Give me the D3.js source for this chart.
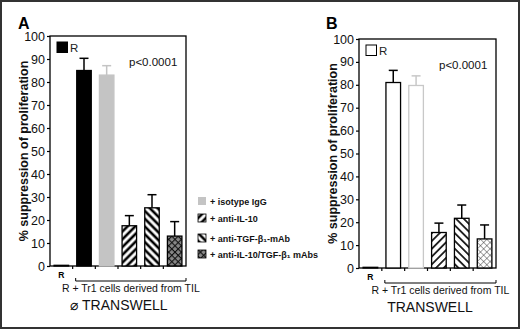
<!DOCTYPE html>
<html>
<head>
<meta charset="utf-8">
<script src="https://cdn.jsdelivr.net/npm/d3@7"></script>
<style>
  body { margin: 0; background: #fff; }
  svg { font-family: "Liberation Sans", Arial, sans-serif; }
</style>
</head>
<body>
<svg id="chart" width="520" height="329"></svg>
<script>
// data
const categories = ["R", "Tr1", "isotype", "antiIL10", "antiTGF", "antiBoth"]
const valuesA = [0.3, 85, 83, 17.5, 25.3, 13]
const errorsA = [0, 5.3, 4.1, 4.4, 5.7, 6.3]
const valuesB = [0.3, 81, 79.7, 15.5, 21.7, 12.7]
const errorsB = [0, 5.3, 4.2, 4.1, 5.8, 6.1]
const yTicks = [0, 10, 20, 30, 40, 50, 60, 70, 80, 90, 100]
const legendLabels = ["+ isotype IgG", "+ anti-IL-10", "+ anti-TGF-β\u2081-mAb", "+ anti-IL-10/TGF-β\u2081 mAbs"]

const svg = d3.select("#chart")

// frame round the whole figure
svg.append("rect")
  .attr("x", 1).attr("y", 1)
  .attr("width", 518).attr("height", 327)
  .attr("fill", "none")
  .attr("stroke", "#333")
  .attr("stroke-width", 2)

// hatch patterns
const defs = svg.append("defs")
function stripes(id, angle, w, col) {
  const p = defs.append("pattern")
    .attr("id", id)
    .attr("patternUnits", "userSpaceOnUse")
    .attr("width", 5.5).attr("height", 5.5)
    .attr("patternTransform", `rotate(${angle})`)
  p.append("rect").attr("width", 5.5).attr("height", 5.5).attr("fill", "#fff")
  p.append("line")
    .attr("x1", 2.75).attr("y1", 0).attr("x2", 2.75).attr("y2", 5.5)
    .attr("stroke", col).attr("stroke-width", w)
}
function cross(id, w, col, bg) {
  const p = defs.append("pattern")
    .attr("id", id)
    .attr("patternUnits", "userSpaceOnUse")
    .attr("width", 4.5).attr("height", 4.5)
    .attr("patternTransform", "rotate(45)")
  p.append("rect").attr("width", 4.5).attr("height", 4.5).attr("fill", bg)
  p.append("line").attr("x1", 0).attr("y1", 0).attr("x2", 0).attr("y2", 4.5)
    .attr("stroke", col).attr("stroke-width", w)
  p.append("line").attr("x1", 0).attr("y1", 0).attr("x2", 4.5).attr("y2", 0)
    .attr("stroke", col).attr("stroke-width", w)
}
stripes("fwdA", 45, 2.6, "#000")
stripes("backA", -45, 2.6, "#000")
cross("crossA", 2.2, "#111", "#888")
stripes("fwdB", 45, 1.6, "#000")
stripes("backB", -45, 1.6, "#000")
cross("crossB", 0.9, "#333", "#fff")

function drawPanel(p) {
  const y = d3.scaleLinear().domain([0, 100]).range([p.y0, p.y100])
  const x = d3.scaleBand().domain(categories).range([p.left, p.right]).paddingInner(0.36).paddingOuter(0.18)
  const band = d3.scaleBand().domain(categories).range([p.left, p.right])

  const g = svg.append("g")

  // plot box
  g.append("rect")
    .attr("x", p.left).attr("y", p.y100)
    .attr("width", p.right - p.left).attr("height", p.y0 - p.y100)
    .attr("fill", "none").attr("stroke", "#000").attr("stroke-width", 1.3)

  // bars
  const bars = g.selectAll(".bar")
    .data(p.values)
    .join("rect")
      .attr("x", (d, i) => x(categories[i]))
      .attr("y", d => y(d))
      .attr("width", x.bandwidth())
      .attr("height", d => p.y0 - y(d))
      .attr("fill", (d, i) => p.fills[i])
      .attr("stroke", (d, i) => p.strokes[i])
      .attr("stroke-width", 1.3)

  // error bars (upper only)
  p.values.forEach((v, i) => {
    if (!p.errors[i]) return
    const cx = x(categories[i]) + x.bandwidth() / 2
    g.append("line")
      .attr("x1", cx).attr("x2", cx)
      .attr("y1", y(v)).attr("y2", y(v + p.errors[i]))
      .attr("stroke", p.errColors[i]).attr("stroke-width", 1.5)
    g.append("line")
      .attr("x1", cx - 4.5).attr("x2", cx + 4.5)
      .attr("y1", y(v + p.errors[i])).attr("y2", y(v + p.errors[i]))
      .attr("stroke", p.errColors[i]).attr("stroke-width", 1.5)
  })

  // y axis
  const yAxis = g.append("g")
    .attr("transform", `translate(${p.left},0)`)
    .call(d3.axisLeft(y).tickValues(yTicks).tickSize(3).tickSizeOuter(0))
  yAxis.select(".domain").remove()
  yAxis.selectAll("line").attr("stroke", "#000").attr("stroke-width", 1.2)
  yAxis.selectAll("text")
    .attr("font-size", 12.5).attr("fill", "#111")
    .attr("font-family", "Liberation Sans, Arial, sans-serif")
    .attr("dx", 1)

  // x axis ticks at band edges
  const xAxis = g.append("g")
    .attr("transform", `translate(0,${p.y0})`)
  xAxis.selectAll("line")
    .data(categories.slice(1))
    .join("line")
      .attr("x1", d => band(d)).attr("x2", d => band(d))
      .attr("y1", 0).attr("y2", 3)
      .attr("stroke", "#000").attr("stroke-width", 1.2)

  g.append("text")
    .attr("x", x("R") + x.bandwidth() / 2).attr("y", p.y0 + 12)
    .attr("text-anchor", "middle")
    .attr("font-size", 8.5).attr("font-weight", "bold")
    .text("R")

  // bracket under the Tr1 groups
  const bx0 = band("Tr1") + 3, bx1 = p.right
  const by = p.y0 + 15
  g.append("path")
    .attr("d", `M${bx0},${by - 3}V${by}H${bx1}V${by - 3}`)
    .attr("fill", "none").attr("stroke", "#000").attr("stroke-width", 1)
  g.append("text")
    .attr("x", (bx0 + bx1) / 2).attr("y", by + 11)
    .attr("text-anchor", "middle")
    .attr("font-size", 10.5).attr("fill", "#111")
    .text("R + Tr1 cells derived from TIL")
  g.append("text")
    .attr("x", p.footX).attr("y", by + 29)
    .attr("text-anchor", "middle")
    .attr("font-size", 14).attr("fill", "#111")
    .text(p.foot)

  // y label
  g.append("text")
    .attr("transform", `translate(${p.labelX},${(p.y0 + p.y100) / 2}) rotate(-90)`)
    .attr("text-anchor", "middle")
    .attr("font-size", 12.5).attr("font-weight", "bold").attr("fill", "#111")
    .text("% suppression of proliferation")

  // panel letter
  g.append("text")
    .attr("x", p.letterX).attr("y", 29)
    .attr("font-size", 16).attr("font-weight", "bold")
    .text(p.letter)

  // R key in the box
  g.append("rect")
    .attr("x", p.left + 7).attr("y", p.y100 + 6)
    .attr("width", 10.5).attr("height", 10.5)
    .attr("fill", p.fills[1]).attr("stroke", "#000").attr("stroke-width", 1)
  g.append("text")
    .attr("x", p.left + 20).attr("y", p.y100 + 15.5)
    .attr("font-size", 11.5).attr("fill", "#222")
    .text("R")

  g.append("text")
    .attr("x", p.pX).attr("y", p.y100 + 30)
    .attr("font-size", 11.5).attr("fill", "#111")
    .text("p<0.0001")
}

drawPanel({
  letter: "A", letterX: 18,
  left: 50, right: 186, y0: 266, y100: 36,
  values: valuesA, errors: errorsA,
  fills: ["#000", "#000", "#c4c4c4", "url(#fwdA)", "url(#backA)", "url(#crossA)"],
  strokes: ["#000", "#000", "#c4c4c4", "#000", "#000", "#000"],
  errColors: ["#000", "#000", "#c4c4c4", "#000", "#000", "#000"],
  labelX: 28, pX: 129, footX: 119, foot: "\u2300 TRANSWELL"
})

drawPanel({
  letter: "B", letterX: 326,
  left: 359, right: 496, y0: 268, y100: 39,
  values: valuesB, errors: errorsB,
  fills: ["#000", "#fff", "#fff", "url(#fwdB)", "url(#backB)", "url(#crossB)"],
  strokes: ["#000", "#000", "#c8c8c8", "#000", "#000", "#000"],
  errColors: ["#000", "#000", "#c8c8c8", "#000", "#000", "#000"],
  labelX: 337, pX: 439, footX: 430, foot: "TRANSWELL"
})

// side legend for the treatments
const legendFills = ["#c4c4c4", "url(#fwdA)", "url(#backA)", "url(#crossA)"]
const legendY = [201, 218, 238, 254]
const legend = svg.append("g")
legendLabels.forEach((t, i) => {
  legend.append("rect")
    .attr("x", 198).attr("y", legendY[i] - 4)
    .attr("width", 8).attr("height", 8)
    .attr("fill", legendFills[i])
    .attr("stroke", i === 0 ? "none" : "#000").attr("stroke-width", 0.8)
  legend.append("text")
    .attr("x", 210).attr("y", legendY[i] + 3.5)
    .attr("font-size", 9).attr("font-weight", "bold").attr("fill", "#111")
    .text(t)
})
</script>
</body>
</html>
